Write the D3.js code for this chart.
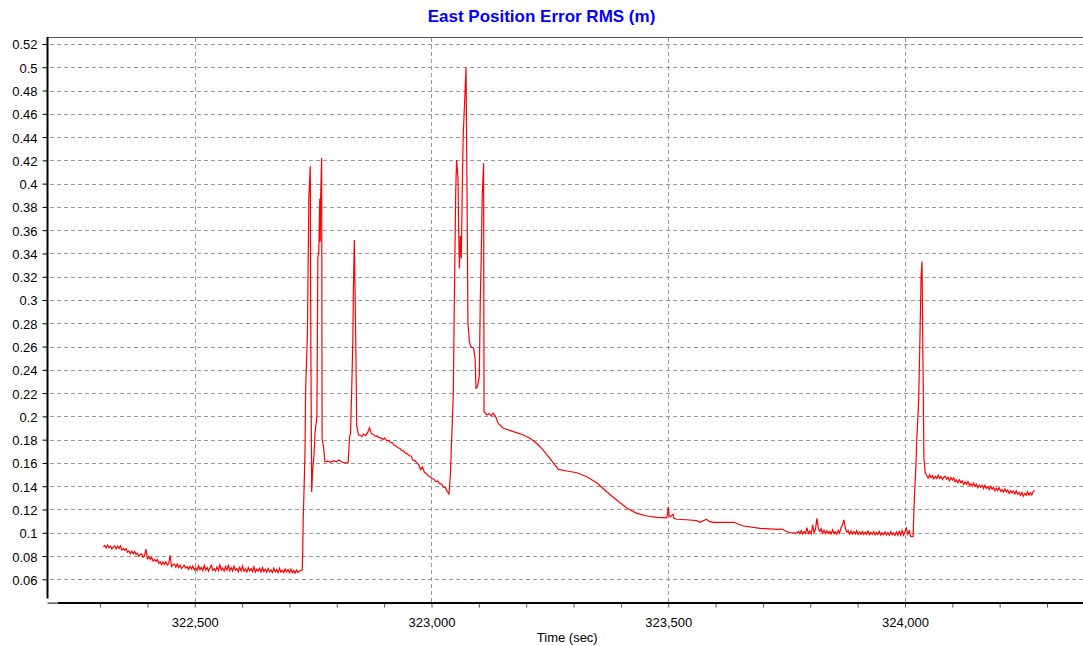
<!DOCTYPE html>
<html>
<head>
<meta charset="utf-8">
<script src="https://cdn.jsdelivr.net/npm/d3@7"></script>
<style>
  html, body { margin: 0; padding: 0; background: #ffffff; }
  svg { display: block; font-family: "Liberation Sans", Arial, sans-serif; }
</style>
</head>
<body>
<svg id="chart" width="1083" height="646"></svg>
<script>
// ---- chart text ----
const chartTitle = "East Position Error RMS (m)";
const xAxisTitle = "Time (sec)";

// ---- axis ticks ----
const yTickValues = [0.06, 0.08, 0.1, 0.12, 0.14, 0.16, 0.18, 0.2, 0.22, 0.24, 0.26, 0.28,
                     0.3, 0.32, 0.34, 0.36, 0.38, 0.4, 0.42, 0.44, 0.46, 0.48, 0.5, 0.52];
const xMajorTicks = [322500, 323000, 323500, 324000];
const xMinorTicks = [322300, 322400, 322500, 322600, 322700, 322800, 322900, 323000,
                     323100, 323200, 323300, 323400, 323500, 323600, 323700, 323800,
                     323900, 324000, 324100, 324200, 324300];

// ---- samples: [GPS time (s), east position error RMS (m)] ----
// quiet start, before the first outages
const samplesStart = [
  [322307,.0880],[322310,.0891],[322313,.0870],[322316,.0895],[322319,.0871],[322322,.0885],[322325,.0860],[322328,.0879],[322331,.0887],[322334,.0861],
  [322337,.0885],[322340,.0864],[322343,.0888],[322346,.0851],[322349,.0866],[322352,.0849],[322355,.0864],[322358,.0833],[322361,.0844],[322364,.0820],
  [322367,.0843],[322370,.0819],[322373,.0841],[322376,.0814],[322379,.0825],[322382,.0797],[322385,.0814],[322388,.0819],[322391,.0790],[322394,.0804],
  [322397,.0860],[322400,.0776],[322403,.0796],[322406,.0771],[322409,.0790],[322412,.0756],[322415,.0771],[322418,.0755],[322421,.0770],[322424,.0739],
  [322427,.0750],[322430,.0725],[322433,.0749],[322436,.0727],[322439,.0750],[322442,.0724],[322445,.0737],[322448,.0805],[322451,.0710],[322454,.0725],
  [322457,.0731],[322460,.0704],[322463,.0731],[322466,.0701],[322469,.0720],[322472,.0692],[322475,.0710],[322478,.0721],[322481,.0695],[322484,.0709],
  [322487,.0686],[322490,.0712],[322493,.0689],[322496,.0714],[322499,.0681],[322502,.0698],[322505,.0676],[322508,.0715],[322511,.0683],[322514,.0701],
  [322517,.0674],[322520,.0719],[322523,.0680],[322526,.0702],[322529,.0670],[322532,.0698],[322535,.0722],[322538,.0677],[322541,.0693],[322544,.0671],
  [322547,.0707],[322550,.0676],[322553,.0724],[322556,.0680],[322559,.0698],[322562,.0671],[322565,.0710],[322568,.0678],[322571,.0726],[322574,.0674],
  [322577,.0700],[322580,.0671],[322583,.0712],[322586,.0678],[322589,.0694],[322592,.0665],[322595,.0703],[322598,.0672],[322601,.0714],[322604,.0669],
  [322607,.0689],[322610,.0664],[322613,.0702],[322616,.0672],[322619,.0693],[322622,.0667],[322625,.0708],[322628,.0663],[322631,.0687],[322634,.0671],
  [322637,.0695],[322640,.0664],[322643,.0702],[322646,.0667],[322649,.0687],[322652,.0661],[322655,.0694],[322658,.0664],[322661,.0681],[322664,.0658],
  [322667,.0695],[322670,.0664],[322673,.0684],[322676,.0658],[322679,.0696],[322682,.0661],[322685,.0678],[322688,.0658],[322691,.0688],[322694,.0663],
  [322697,.0684],[322700,.0659],[322703,.0688],[322706,.0656],[322709,.0676],[322712,.0653],[322715,.0679],[322718,.0659],[322721,.0672]
];
// first group of outages
const samplesOutageA = [
  [322727,.0680],[322728,.0826],[322729,.1095],[322731,.1400],[322733,.1726],[322734,.2200],[322738,.2717],[322741,.3888],[322744,.4150],[322745,.2740],
  [322747,.1350],[322749,.1540],[322752,.1670],[322754,.1860],[322758,.2000],[322760,.3360],[322762,.3420],[322764,.3870],[322765,.3500],[322766,.3900],
  [322768,.4220],[322769,.1797],[322772,.1740],[322775,.1610],[322781,.1615],[322787,.1605],[322793,.1620],[322799,.1610],[322805,.1625],[322811,.1608],
  [322817,.1600],[322824,.1603],[322827,.1826],[322829,.1850],[322832,.2310],[322834,.2680],[322835,.3070],[322837,.3516],[322840,.2680],[322842,.1926],
  [322846,.1840]
];
// slow convergence after the first outages
const samplesRecoveryA = [
  [322849,.1838],[322853,.1828],[322857,.1848],[322861,.1835],[322865,.1860],[322869,.1902],[322873,.1852],[322877,.1845],[322881,.1830],[322885,.1833],
  [322889,.1818],[322893,.1815],[322897,.1802],[322901,.1815],[322905,.1792],[322909,.1794],[322913,.1778],[322917,.1775],[322921,.1752],[322925,.1746],
  [322929,.1730],[322933,.1726],[322937,.1708],[322941,.1705],[322945,.1684],[322949,.1678],[322953,.1662],[322957,.1660],[322961,.1622],[322965,.1620],
  [322969,.1600],[322973,.1585],[322977,.1542],[322981,.1565],[322985,.1520],[322989,.1510],[322993,.1490],[322997,.1482],[323001,.1466],[323005,.1460],
  [323009,.1440],[323013,.1445],[323017,.1422],[323021,.1420],[323025,.1392],[323029,.1390],[323033,.1356],[323037,.1335]
];
// second group of outages
const samplesOutageB = [
  [323040,.1500],[323041,.1625],[323044,.1955],[323046,.2184],[323048,.2886],[323051,.3903],[323053,.4203],[323056,.4050],[323057,.3688],[323059,.3270],
  [323061,.3550],[323063,.3360],[323065,.3960],[323067,.4418],[323070,.4705],[323073,.5000],[323075,.3960],[323077,.2800],[323080,.2642],[323083,.2600],
  [323089,.2585],[323092,.2499],[323094,.2242],[323097,.2255],[323101,.2341],[323103,.2986],[323105,.3360],[323107,.3874],[323110,.4175],[323111,.2040]
];
// long smooth convergence
const samplesRecoveryB = [
  [323117,.2012],[323122,.2025],[323126,.2005],[323130,.2028],[323135,.2003],[323141,.1940],[323152,.1898],[323173,.1869],[323194,.1840],[323208,.1812],
  [323222,.1769],[323236,.1711],[323250,.1640],[323261,.1582],[323268,.1545],[323286,.1531],[323307,.1516],[323328,.1482],[323349,.1430],[323370,.1353],
  [323391,.1282],[323413,.1210],[323434,.1167],[323455,.1144],[323476,.1133],[323497,.1128],[323499,.1180],[323500,.1224],[323502,.1150],[323504,.1135],
  [323510,.1160],[323512,.1125],[323518,.1116],[323539,.1112],[323560,.1104],[323567,.1090],[323581,.1116],[323586,.1098],[323596,.1090],[323638,.1090],
  [323659,.1058],[323694,.1038],[323730,.1030],[323740,.1032],[323751,.1009],[323757,.1002],[323763,.0998],[323769,.1000]
];
// noisy steady state
const samplesSteady = [
  [323772,.0998],[323775,.1012],[323778,.0992],[323781,.1020],[323784,.0990],[323787,.1008],[323790,.0994],[323793,.1045],[323796,.0993],[323799,.1015],
  [323802,.0990],[323805,.1067],[323808,.1002],[323811,.1030],[323814,.1124],[323817,.1040],[323820,.1010],[323823,.1035],[323826,.0998],[323829,.1022],
  [323832,.0992],[323835,.1018],[323838,.0995],[323841,.1012],[323844,.0990],[323847,.1025],[323850,.0992],[323853,.1010],[323856,.0988],[323859,.1020],
  [323862,.0995],[323865,.1045],[323868,.1070],[323871,.1110],[323874,.1040],[323877,.1005],[323880,.1020],[323883,.0990],[323886,.1015],[323889,.0988],
  [323892,.1010],[323895,.0990],[323898,.1018],[323901,.0986],[323904,.1008],[323907,.0988],[323910,.1012],[323913,.0985],[323916,.1005],[323919,.0987],
  [323922,.1014],[323925,.0984],[323928,.1002],[323931,.0986],[323934,.1010],[323937,.0982],[323940,.1004],[323943,.0985],[323946,.1012],[323949,.0980],
  [323952,.1000],[323955,.0984],[323958,.1008],[323961,.0981],[323964,.1003],[323967,.0979],[323970,.1010],[323973,.0982],[323976,.1000],[323979,.0978],
  [323982,.1006],[323985,.0980],[323988,.1012],[323991,.0978],[323994,.1020],[323997,.0980],[324000,.1010],[324003,.1040],[324006,.0985],[324009,.1015],
  [324012,.0968]
];
// third outage
const samplesOutageC = [
  [324017,.0967],[324018,.1080],[324020,.1310],[324023,.1568],[324025,.1797],[324029,.2156],[324031,.2542],[324034,.3200],[324036,.3330],[324038,.2470],
  [324040,.1640],[324043,.1511]
];
// final stretch
const samplesEnd = [
  [324046,.1492],[324049,.1469],[324052,.1498],[324055,.1473],[324058,.1492],[324061,.1463],[324064,.1485],[324067,.1466],[324070,.1495],[324073,.1466],
  [324076,.1485],[324079,.1458],[324082,.1478],[324085,.1487],[324088,.1460],[324091,.1477],[324094,.1447],[324097,.1474],[324100,.1452],[324103,.1471],
  [324106,.1438],[324109,.1455],[324112,.1429],[324115,.1455],[324118,.1431],[324121,.1445],[324124,.1415],[324127,.1437],[324130,.1417],[324133,.1440],
  [324136,.1407],[324139,.1422],[324142,.1400],[324145,.1427],[324148,.1400],[324151,.1417],[324154,.1388],[324157,.1410],[324160,.1391],[324163,.1409],
  [324166,.1381],[324169,.1409],[324172,.1381],[324175,.1397],[324178,.1371],[324181,.1398],[324184,.1375],[324187,.1391],[324190,.1361],[324193,.1383],
  [324196,.1363],[324199,.1388],[324202,.1356],[324205,.1371],[324208,.1349],[324211,.1376],[324214,.1350],[324217,.1367],[324220,.1338],[324223,.1361],
  [324226,.1342],[324229,.1360],[324232,.1332],[324235,.1359],[324238,.1331],[324241,.1347],[324244,.1321],[324247,.1348],[324250,.1314],[324253,.1339],
  [324256,.1322],[324259,.1352],[324262,.1323],[324265,.1343],[324268,.1325],[324271,.1357],[324274,.1360]
];

const samples = [].concat(samplesStart, samplesOutageA, samplesRecoveryA, samplesOutageB,
                          samplesRecoveryB, samplesSteady, samplesOutageC, samplesEnd);

// ---- layout ----
const W = 1083, H = 646;
const plot = { left: 47.5, right: 1083, top: 37, bottom: 602.6 };

const svg = d3.select("#chart");

const x = d3.scaleLinear().domain([322189, 324376]).range([plot.left, plot.right]);
const y = d3.scaleLinear().domain([0.04, 0.526]).range([plot.bottom, plot.top]);

// title
svg.append("text")
  .attr("x", W / 2).attr("y", 22)
  .attr("text-anchor", "middle")
  .attr("font-size", 17).attr("font-weight", "bold")
  .attr("fill", "#0000ff")
  .text(chartTitle);

// dashed grid
const grid = svg.append("g")
  .attr("stroke", "#9a9a9a").attr("stroke-width", 1)
  .attr("stroke-dasharray", "4,3").attr("shape-rendering", "crispEdges");
grid.selectAll("line.h").data(yTickValues).join("line")
  .attr("class", "h")
  .attr("x1", plot.left + 2).attr("x2", plot.right)
  .attr("y1", d => Math.round(y(d)) + 0.5).attr("y2", d => Math.round(y(d)) + 0.5);
grid.selectAll("line.v").data(xMajorTicks).join("line")
  .attr("class", "v")
  .attr("x1", d => Math.round(x(d)) + 0.5).attr("x2", d => Math.round(x(d)) + 0.5)
  .attr("y1", plot.top + 1).attr("y2", plot.bottom - 1);

// top frame line
svg.append("line")
  .attr("x1", plot.left).attr("x2", plot.right)
  .attr("y1", plot.top + 0.5).attr("y2", plot.top + 0.5)
  .attr("stroke", "#555").attr("stroke-width", 1);

// data line
const line = d3.line()
  .x(d => x(d[0]))
  .y(d => y(d[1]));
svg.append("path")
  .datum(samples)
  .attr("fill", "none")
  .attr("stroke", "#ff0000")
  .attr("stroke-width", 1.2)
  .attr("stroke-linejoin", "miter")
  .attr("d", line);

// y axis
const yAxis = d3.axisLeft(y)
  .tickValues(yTickValues)
  .tickSize(5).tickPadding(5)
  .tickFormat(d => String(d));
const gy = svg.append("g")
  .attr("transform", `translate(${plot.left},0)`)
  .call(yAxis);
gy.select(".domain").remove();
gy.selectAll("text").attr("font-size", 13).attr("fill", "#000")
  .attr("font-family", "'Liberation Sans', Arial, sans-serif").attr("dy", "0.38em");
gy.selectAll("line").attr("stroke", "#000");
svg.append("line")
  .attr("x1", plot.left).attr("x2", plot.left)
  .attr("y1", plot.top).attr("y2", plot.bottom - 4)
  .attr("stroke", "#000").attr("stroke-width", 2);

// x axis
const majorSet = new Set(xMajorTicks);
const xAxis = d3.axisBottom(x)
  .tickValues(xMinorTicks)
  .tickSize(4).tickPadding(10)
  .tickFormat(d => majorSet.has(d) ? d3.format(",")(d) : "");
const gx = svg.append("g")
  .attr("transform", `translate(0,${plot.bottom + 1})`)
  .call(xAxis);
gx.select(".domain").remove();
gx.selectAll("text").attr("font-size", 13).attr("fill", "#000")
  .attr("font-family", "'Liberation Sans', Arial, sans-serif");
gx.selectAll("line").attr("stroke", "#555");
svg.append("line")
  .attr("x1", plot.left).attr("x2", 58)
  .attr("y1", plot.bottom + 0.5).attr("y2", plot.bottom + 0.5)
  .attr("stroke", "#000").attr("stroke-width", 1);
svg.append("line")
  .attr("x1", 58).attr("x2", plot.right)
  .attr("y1", plot.bottom + 0.5).attr("y2", plot.bottom + 0.5)
  .attr("stroke", "#000").attr("stroke-width", 2);

// x axis title
svg.append("text")
  .attr("x", (plot.left + plot.right) / 2 + 2).attr("y", 642)
  .attr("text-anchor", "middle")
  .attr("font-size", 13).attr("fill", "#000")
  .text(xAxisTitle);
</script>
</body>
</html>
